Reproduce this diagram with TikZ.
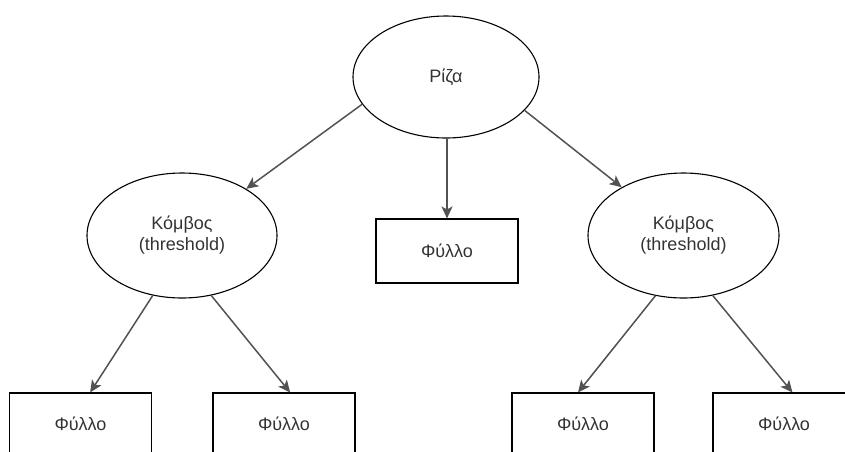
\documentclass[tikz,border=0pt]{standalone}
\usepackage{fontspec}
\setmainfont{Liberation Sans}
\usetikzlibrary{shapes.geometric,arrows.meta}

\tikzset{
  every node/.style={font=\fontsize{18}{21}\selectfont, text=black!80},
  oval/.style={ellipse, draw=black, line width=1.1pt, inner sep=0pt, align=center},
  leafbox/.style={rectangle, draw=black, line width=1.1pt, inner sep=0pt,
                  minimum width=142, minimum height=62},
  edge/.style={draw=black!68, line width=1.5pt,
               -{Stealth[length=12pt, width=11pt, inset=3pt]}}
}

\begin{document}
\begin{tikzpicture}[x=1pt, y=-1pt]
  \useasboundingbox (0,0) rectangle (845,451);
  \clip (0,0) rectangle (845,451);

  % root and inner nodes
  \node[oval, minimum width=186, minimum height=122] (root) at (446,77) {Ρίζα};
  \node[oval, minimum width=190, minimum height=125] (kl) at (182,235.5) {Κόμβος\\(threshold)};
  \node[oval, minimum width=191, minimum height=125] (kr) at (683.5,235.5) {Κόμβος\\(threshold)};

  % leaves
  \node[leafbox, minimum height=64] (mid) at (447,251) {Φύλλο};
  \node[leafbox] (b1) at (80.5,424) {Φύλλο};
  \node[leafbox] (b2) at (284,424) {Φύλλο};
  \node[leafbox] (b3) at (583,424) {Φύλλο};
  \node[leafbox] (b4) at (784,424) {Φύλλο};

  % connectors
  \draw[edge] (root.198) -- (kl.36);
  \draw[edge] (root.south -| mid.north) -- (mid.north);
  \draw[edge] (root.-23) -- (kr.142);
  \draw[edge] (kl.-116) -- (b1.73);
  \draw[edge] (kl.-64) -- (b2.79);
  \draw[edge] (kr.-115) -- (b3.99);
  \draw[edge] (kr.-64) -- (b4.75);
\end{tikzpicture}
\end{document}
